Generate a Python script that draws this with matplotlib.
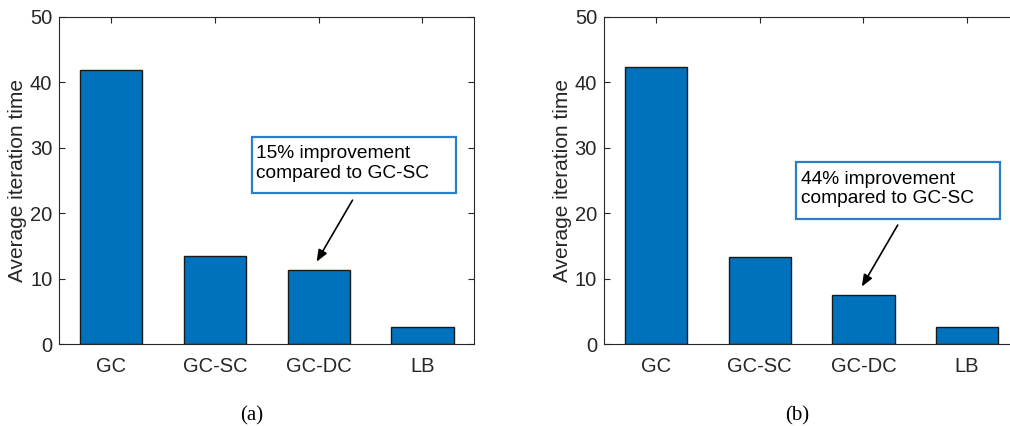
import matplotlib.pyplot as plt
from matplotlib.patches import Rectangle

plt.rcParams['font.family'] = ['Liberation Sans', 'DejaVu Sans']

categories = ['GC', 'GC-SC', 'GC-DC', 'LB']
times_a = [41.8, 13.5, 11.4, 2.6]
times_b = [42.3, 13.4, 7.5, 2.6]
notes = ['15% improvement\ncompared to GC-SC', '44% improvement\ncompared to GC-SC']
captions = ['(a)', '(b)']

# annotation geometry in data units: box (x0, y0, x1, y1), arrow tail, arrow head
boxes = [(2.357, 23.1, 4.32, 31.6), (2.355, 19.2, 4.32, 27.8)]
arrows = [((3.326, 22.0), (2.98, 12.6)), ((3.331, 18.2), (2.985, 8.8))]

bar_color = '#0072BD'
text_color = '#262626'

W, H = 1010, 426
fig = plt.figure(figsize=(W / 100, H / 100), dpi=100)
ax_left_px = [59.3, 604]
ax_w, ax_h = 415, 327.6
ax_bottom = (H - 344.3) / H

for i, vals in enumerate([times_a, times_b]):
    ax = fig.add_axes([ax_left_px[i] / W, ax_bottom, ax_w / W, ax_h / H])
    x = range(1, len(categories) + 1)
    ax.bar(x, vals, width=0.6, color=bar_color, edgecolor='#1a1a1a', linewidth=1.0, zorder=2)
    ax.set_xlim(0.5, 4.5)
    ax.set_ylim(0, 50)
    ax.set_xticks(list(x))
    ax.set_xticklabels(categories)
    ax.set_yticks([0, 10, 20, 30, 40, 50])
    ax.tick_params(direction='in', top=True, right=True, length=4, width=0.8,
                   labelsize=14.5, colors=text_color, labelcolor=text_color, pad=5)
    ax.tick_params(axis='x', pad=9)
    for s in ax.spines.values():
        s.set_color(text_color)
        s.set_linewidth(0.8)
    ax.set_ylabel('Average iteration time', fontsize=15, color=text_color, labelpad=2)

    x0, y0, x1, y1 = boxes[i]
    ax.add_patch(Rectangle((x0, y0), x1 - x0, y1 - y0, facecolor='white',
                           edgecolor='#2b7fc8', linewidth=1.6, zorder=4))
    ax.text(x0 + 0.04, (y0 + y1) / 2 + 0.2, notes[i], ha='left', va='center',
            fontsize=13.8, color='black', linespacing=1.22, zorder=5)
    tail, head = arrows[i]
    ax.annotate('', xy=head, xytext=tail,
                arrowprops=dict(arrowstyle='-|>,head_length=0.7,head_width=0.28',
                                color='black', lw=1.2, shrinkA=0, shrinkB=0), zorder=5)

fig.text(252 / W, 1 - 416 / H, captions[0], ha='center', va='center',
         family='Liberation Serif', fontsize=15)
fig.text(797 / W, 1 - 416 / H, captions[1], ha='center', va='center',
         family='Liberation Serif', fontsize=15)

fig.savefig('out.png', dpi=100)
